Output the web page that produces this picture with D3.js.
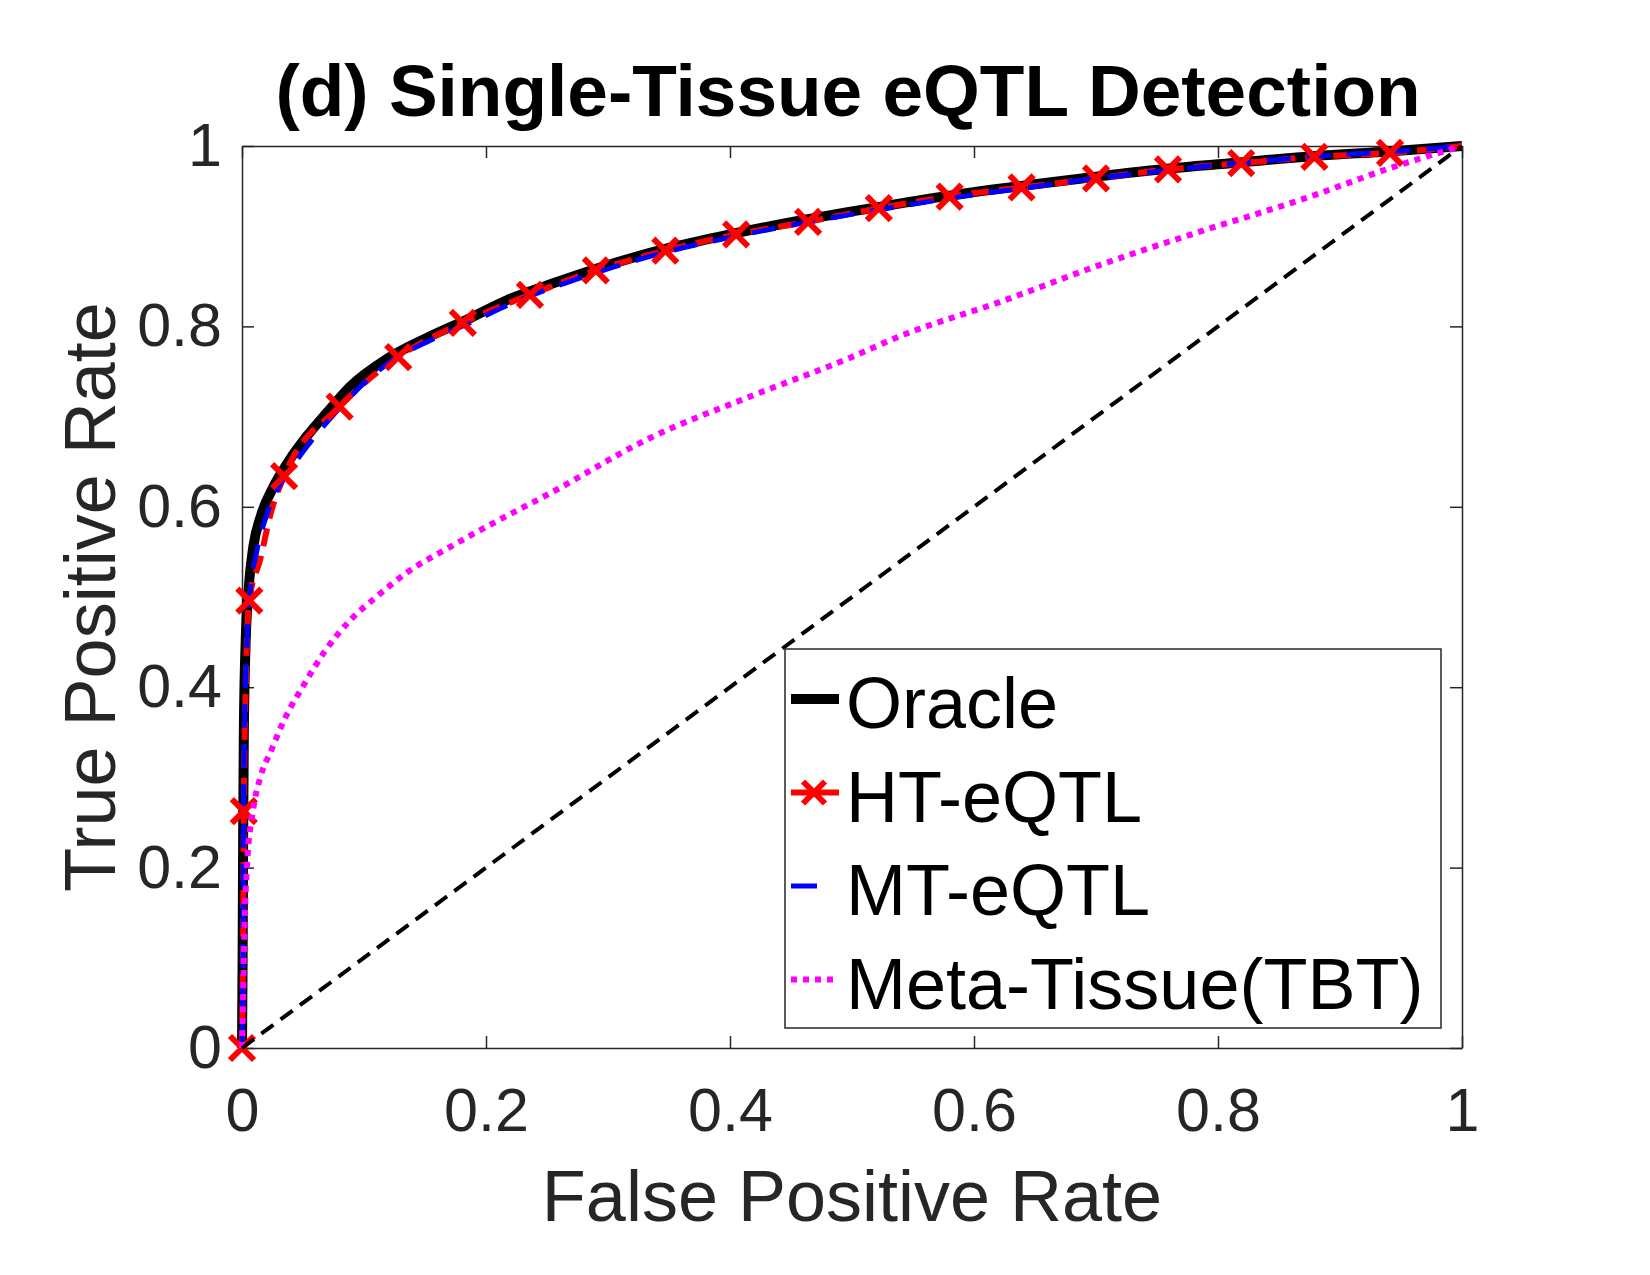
<!DOCTYPE html>
<html>
<head>
<meta charset="utf-8">
<script src="https://cdn.jsdelivr.net/npm/d3@7"></script>
<style>
  body { margin: 0; background: #fff; }
  text { font-family: "Liberation Sans", Arial, Helvetica, sans-serif; }
</style>
</head>
<body>
<div id="chart"></div>
<script>
// ROC curves
var oracleX = [0, 0.0005, 0.001, 0.0015, 0.003, 0.0055, 0.0093, 0.0155, 0.0257, 0.038, 0.053, 0.07, 0.0885, 0.12, 0.151, 0.185, 0.217, 0.26, 0.3, 0.35, 0.4, 0.46, 0.52, 0.58, 0.64, 0.7, 0.76, 0.82, 0.88, 0.94, 1];
var oracleY = [0, 0.1, 0.25, 0.35, 0.45, 0.51, 0.556, 0.59, 0.622, 0.65, 0.678, 0.705, 0.733, 0.765, 0.787, 0.808, 0.829, 0.85, 0.868, 0.887, 0.902, 0.918, 0.932, 0.945, 0.956, 0.966, 0.975, 0.982, 0.989, 0.994, 1];

var htX = [0, 0.0008, 0.0015, 0.003, 0.006, 0.0148, 0.024, 0.0345, 0.080, 0.128, 0.181, 0.236, 0.290, 0.347, 0.405, 0.464, 0.522, 0.580, 0.639, 0.700, 0.759, 0.819, 0.879, 0.941, 1];
var htY = [0, 0.1, 0.2625, 0.4, 0.496, 0.541, 0.595, 0.634, 0.711, 0.766, 0.804, 0.835, 0.862, 0.884, 0.902, 0.916, 0.931, 0.944, 0.954, 0.964, 0.974, 0.981, 0.988, 0.9925, 1];
var htMarkers = [0, 2, 4, 7, 8, 9, 10, 11, 12, 13, 14, 15, 16, 17, 18, 19, 20, 21, 22, 23];

var mtX = [0, 0.0008, 0.0012, 0.002, 0.004, 0.007, 0.012, 0.02, 0.03, 0.044, 0.058, 0.075, 0.093, 0.124, 0.155, 0.19, 0.222, 0.265, 0.305, 0.355, 0.405, 0.465, 0.525, 0.585, 0.645, 0.705, 0.765, 0.825, 0.885, 0.945, 1];
var mtY = [0, 0.1, 0.25, 0.35, 0.45, 0.51, 0.55, 0.59, 0.622, 0.65, 0.675, 0.702, 0.728, 0.763, 0.785, 0.806, 0.826, 0.848, 0.866, 0.885, 0.9, 0.916, 0.93, 0.943, 0.954, 0.965, 0.974, 0.982, 0.989, 0.994, 1];

var metaX = [0, 0.001, 0.002, 0.004, 0.009, 0.015, 0.024, 0.035, 0.05, 0.068, 0.0885, 0.11, 0.135, 0.17, 0.206, 0.2525, 0.334, 0.416, 0.498, 0.539, 0.621, 0.703, 0.785, 0.867, 0.949, 1];
var metaY = [0, 0.06, 0.13, 0.2, 0.263, 0.3, 0.33, 0.365, 0.401, 0.44, 0.474, 0.5, 0.527, 0.555, 0.582, 0.615, 0.676, 0.722, 0.765, 0.789, 0.827, 0.868, 0.905, 0.940, 0.979, 1];

var diagX = [0, 1];
var diagY = [0, 1];

var tickValues = [0, 0.2, 0.4, 0.6, 0.8, 1];
var tickLabels = ["0", "0.2", "0.4", "0.6", "0.8", "1"];
var seriesNames = ["Oracle", "HT-eQTL", "MT-eQTL", "Meta-Tissue(TBT)"];

var width = 1650,
  height = 1275,
  plotLeft = 242,
  plotRight = 1462,
  plotTop = 146,
  plotBottom = 1048;

var svg = d3.select("#chart")
  .append("svg")
  .attr("width", width)
  .attr("height", height)
  .style("background", "#fff");

var x = d3.scaleLinear().domain([0, 1]).range([plotLeft, plotRight]);
var y = d3.scaleLinear().domain([0, 1]).range([plotBottom, plotTop]);

var fmt = function(d) { return tickLabels[tickValues.indexOf(d)]; };

// axes, MATLAB style box with inward ticks
var gx = svg.append("g").attr("transform", "translate(0," + plotBottom + ")")
  .call(d3.axisBottom(x).tickValues(tickValues).tickFormat(fmt).tickSizeInner(-12).tickSizeOuter(0).tickPadding(40));
var gy = svg.append("g").attr("transform", "translate(" + plotLeft + ",0)")
  .call(d3.axisLeft(y).tickValues(tickValues).tickFormat(fmt).tickSizeInner(-12).tickSizeOuter(0).tickPadding(20));
var gt = svg.append("g").attr("transform", "translate(0," + plotTop + ")")
  .call(d3.axisTop(x).tickValues(tickValues).tickFormat("").tickSizeInner(-12).tickSizeOuter(0));
var gr = svg.append("g").attr("transform", "translate(" + plotRight + ",0)")
  .call(d3.axisRight(y).tickValues(tickValues).tickFormat("").tickSizeInner(-12).tickSizeOuter(0));

[gx, gy, gt, gr].forEach(function(g) {
  g.select(".domain").attr("stroke", "#262626").attr("stroke-width", 1.5);
  g.selectAll(".tick line").attr("stroke", "#262626").attr("stroke-width", 1.5);
  g.selectAll(".tick text")
    .attr("fill", "#262626")
    .style("font-size", "61px")
    .style("font-family", "'Liberation Sans', Arial, sans-serif");
});

function lineOf(xs, ys) {
  return d3.line()
    .x(function(d, i) { return x(xs[i]); })
    .y(function(d, i) { return y(ys[i]); })
    .curve(d3.curveMonotoneX)(xs);
}

var plot = svg.append("g");

// Oracle
plot.append("path")
  .attr("d", lineOf(oracleX, oracleY))
  .attr("fill", "none")
  .attr("stroke", "#000")
  .attr("stroke-width", 10)
  .attr("stroke-linejoin", "round");

// HT-eQTL
plot.append("path")
  .attr("d", lineOf(htX, htY))
  .attr("fill", "none")
  .attr("stroke", "#ff0000")
  .attr("stroke-width", 6)
  .attr("stroke-dasharray", "18,10");

function xMarker(g, cx, cy, s) {
  g.append("path")
    .attr("d", "M" + (cx - s) + "," + (cy - s) + "L" + (cx + s) + "," + (cy + s) +
      "M" + (cx - s) + "," + (cy + s) + "L" + (cx + s) + "," + (cy - s))
    .attr("stroke", "#ff0000")
    .attr("stroke-width", 6)
    .attr("fill", "none");
}

// MT-eQTL
plot.append("path")
  .attr("d", lineOf(mtX, mtY))
  .attr("fill", "none")
  .attr("stroke", "#0000ff")
  .attr("stroke-width", 5)
  .attr("stroke-dasharray", "24,16");

htMarkers.forEach(function(i) {
  xMarker(plot, x(htX[i]), y(htY[i]), 12);
});

// Meta-Tissue(TBT)
plot.append("path")
  .attr("d", lineOf(metaX, metaY))
  .attr("fill", "none")
  .attr("stroke", "#ff00ff")
  .attr("stroke-width", 6)
  .attr("stroke-dasharray", "6,6");

// chance line
plot.append("line")
  .attr("x1", x(diagX[0])).attr("y1", y(diagY[0]))
  .attr("x2", x(diagX[1])).attr("y2", y(diagY[1]))
  .attr("stroke", "#000")
  .attr("stroke-width", 4)
  .attr("stroke-dasharray", "15,9");

// titles
svg.append("text")
  .attr("x", (plotLeft + plotRight) / 2 - 4)
  .attr("y", 116)
  .attr("text-anchor", "middle")
  .style("font-size", "73px")
  .style("font-weight", "bold")
  .attr("fill", "#000")
  .text("(d) Single-Tissue eQTL Detection");

svg.append("text")
  .attr("x", (plotLeft + plotRight) / 2)
  .attr("y", 1221)
  .attr("text-anchor", "middle")
  .style("font-size", "72px")
  .attr("fill", "#262626")
  .text("False Positive Rate");

svg.append("text")
  .attr("transform", "translate(115," + (plotTop + plotBottom) / 2 + ") rotate(-90)")
  .attr("text-anchor", "middle")
  .style("font-size", "72px")
  .attr("fill", "#262626")
  .text("True Positive Rate");

// legend
var legend = svg.append("g");
legend.append("rect")
  .attr("x", 785).attr("y", 649)
  .attr("width", 656).attr("height", 379)
  .attr("fill", "#fff")
  .attr("stroke", "#262626")
  .attr("stroke-width", 1.5);

var rowY = function(i) { return 699 + i * 93.5; };
var styles = [
  { color: "#000", w: 10, dash: null, x2: 839 },
  { color: "#ff0000", w: 6, dash: null, x2: 839 },
  { color: "#0000ff", w: 5, dash: null, x2: 817 },
  { color: "#ff00ff", w: 6, dash: "6,6", x2: 839 }
];

seriesNames.forEach(function(name, i) {
  var s = styles[i];
  legend.append("line")
    .attr("x1", 791).attr("x2", s.x2)
    .attr("y1", rowY(i)).attr("y2", rowY(i))
    .attr("stroke", s.color)
    .attr("stroke-width", s.w)
    .attr("stroke-dasharray", s.dash);
  if (i === 1) xMarker(legend, 814, rowY(i), 11);
  legend.append("text")
    .attr("x", 846)
    .attr("y", rowY(i) + 29)
    .style("font-size", "72px")
    .attr("fill", "#000")
    .text(name);
});
</script>
</body>
</html>
